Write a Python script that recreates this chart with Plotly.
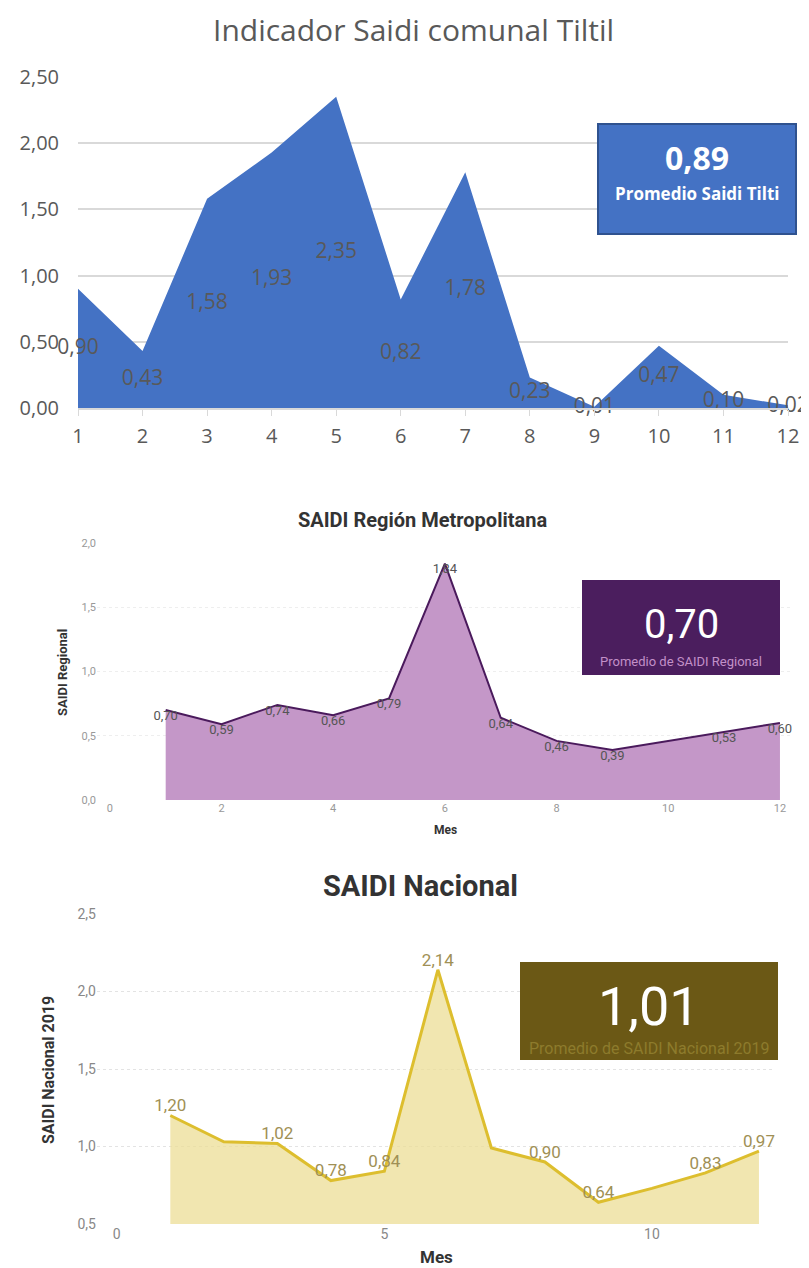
import plotly.graph_objects as go

W, H = 809, 1268
PAGE_OFFSET = 8  # the browser body margin pushes the figure 8px right/down

meses = list(range(1, 13))
saidi_tiltil = [0.90, 0.43, 1.58, 1.93, 2.35, 0.82, 1.78, 0.23, 0.01, 0.47, 0.10, 0.02]
saidi_regional = [0.70, 0.59, 0.74, 0.66, 0.79, 1.84, 0.64, 0.46, 0.39, 0.46, 0.53, 0.60]
regional_con_etiqueta = [True] * 9 + [False, True, True]
saidi_nacional = [1.20, 1.03, 1.02, 0.78, 0.84, 2.14, 0.99, 0.90, 0.64, 0.73, 0.83, 0.97]
nacional_con_etiqueta = [True, False, True, True, True, True, False, True, True, False, True, True]

prom_tiltil = "0,89"
prom_regional = "0,70"
prom_nacional = "1,01"


def _px(x):
    return (x - PAGE_OFFSET) / W


def _py(y):
    return 1 - (y - PAGE_OFFSET) / H


def _fmt(v, nd=2):
    return f"{v:.{nd}f}".replace(".", ",")


fig = go.Figure()

# --- Tiltil (Excel style) ---
fig.add_trace(go.Scatter(
    x=meses, y=saidi_tiltil, mode="lines", fill="tozeroy",
    line=dict(color="#4472C4", width=0), fillcolor="#4472C4",
    xaxis="x", yaxis="y", showlegend=False, hoverinfo="skip",
))
# Excel puts area labels halfway up the area
fig.add_trace(go.Scatter(
    x=meses, y=[v / 2 for v in saidi_tiltil], mode="text",
    text=[_fmt(v) for v in saidi_tiltil],
    textfont=dict(family="Open Sans", size=21, color="#595959"),
    xaxis="x", yaxis="y", showlegend=False, hoverinfo="skip", cliponaxis=False,
))

# --- Region Metropolitana ---
fig.add_trace(go.Scatter(
    x=meses, y=saidi_regional, mode="lines+text", fill="tozeroy",
    line=dict(color="#4A1A5C", width=2), fillcolor="#C497C8",
    text=[_fmt(v) if s else "" for v, s in zip(saidi_regional, regional_con_etiqueta)],
    textposition="bottom center",
    textfont=dict(family="Roboto", size=13, color="#555555"),
    xaxis="x2", yaxis="y2", showlegend=False, hoverinfo="skip", cliponaxis=False,
))

# --- Nacional ---
fig.add_trace(go.Scatter(
    x=meses, y=saidi_nacional, mode="lines+text", fill="tozeroy",
    line=dict(color="#DDBE2E", width=3), fillcolor="rgba(236,222,150,0.75)",
    text=[_fmt(v) if s else "" for v, s in zip(saidi_nacional, nacional_con_etiqueta)],
    textposition="top center",
    textfont=dict(family="Roboto", size=17, color="#A09055"),
    xaxis="x3", yaxis="y3", showlegend=False, hoverinfo="skip", cliponaxis=False,
))

grid_light = "#D9D9D9"

fig.update_layout(
    width=W, height=H,
    margin=dict(l=0, r=0, t=0, b=0, autoexpand=False),
    paper_bgcolor="white", plot_bgcolor="rgba(0,0,0,0)",
    separators=",.",
    xaxis=dict(
        domain=[_px(78), _px(788)], range=[1, 12], anchor="y", automargin=False,
        tickvals=meses, ticks="outside", ticklen=6, tickcolor=grid_light,
        showline=True, linecolor=grid_light, linewidth=1.5, showgrid=False, zeroline=False,
        tickfont=dict(family="Open Sans", size=20, color="#595959"),
        ticklabelstandoff=3,
    ),
    yaxis=dict(
        domain=[_py(408), _py(77)], range=[0, 2.5], anchor="x", automargin=False,
        tickvals=[0, 0.5, 1, 1.5, 2, 2.5], tickformat=".2f",
        gridcolor=grid_light, gridwidth=1.5, zeroline=False, showline=False,
        tickfont=dict(family="Open Sans", size=20, color="#595959"),
        ticklabelstandoff=18,
    ),
    xaxis2=dict(
        domain=[_px(97), _px(790)], range=[-0.23, 12.18], anchor="y2", automargin=False,
        tickvals=[0, 2, 4, 6, 8, 10, 12], showgrid=False, zeroline=False,
        tickfont=dict(family="Roboto", size=11, color="#999999"),
    ),
    yaxis2=dict(
        domain=[_py(800), _py(543)], range=[0, 2.0], anchor="x2", automargin=False,
        tickvals=[0, 0.5, 1, 1.5, 2], tickformat=".1f",
        gridcolor="#EEEEEE", griddash="dot", zeroline=False,
        tickfont=dict(family="Roboto", size=11, color="#999999"),
    ),
    xaxis3=dict(
        domain=[_px(97), _px(775)], range=[-0.37, 12.3], anchor="y3", automargin=False,
        tickvals=[0, 5, 10], showgrid=False, zeroline=False,
        tickfont=dict(family="Roboto", size=14, color="#888888"),
    ),
    yaxis3=dict(
        domain=[_py(1224), _py(914)], range=[0.5, 2.5], anchor="x3", automargin=False,
        tickvals=[0.5, 1, 1.5, 2, 2.5], tickformat=".1f",
        gridcolor="#E3E3E3", griddash="dot", zeroline=False,
        tickfont=dict(family="Roboto", size=14, color="#888888"),
    ),
)

shapes = [
    dict(type="rect", xref="paper", yref="paper", x0=_px(598), x1=_px(796), y0=_py(234), y1=_py(124),
         fillcolor="#4472C4", line=dict(color="#2F528F", width=2)),
    dict(type="rect", xref="paper", yref="paper", x0=_px(582), x1=_px(780), y0=_py(675), y1=_py(580),
         fillcolor="#4B1E5E", line=dict(width=0)),
    dict(type="rect", xref="paper", yref="paper", x0=_px(520), x1=_px(778), y0=_py(1060), y1=_py(962),
         fillcolor="#6B5815", line=dict(width=0)),
]
fig.update_layout(shapes=shapes)


def _note(x, y, text, size, color, family="Open Sans", angle=0, bold=False):
    if bold:
        text = f"<b>{text}</b>"
    fig.add_annotation(
        xref="paper", yref="paper", x=_px(x), y=_py(y), text=text, showarrow=False,
        xanchor="center", yanchor="middle", textangle=angle,
        font=dict(family=family, size=size, color=color),
    )


_note(413, 29, "Indicador Saidi comunal Tiltil", 30, "#595959")
_note(697, 157, prom_tiltil, 32, "white", bold=True)
_note(697, 194, "Promedio Saidi Tilti", 17, "white", bold=True)

_note(422, 520, "SAIDI Región Metropolitana", 20, "#333333", family="Roboto", bold=True)
_note(62, 673, "SAIDI Regional", 13, "#333333", family="Roboto", angle=-90, bold=True)
_note(445, 830, "Mes", 12, "#333333", family="Roboto", bold=True)
_note(681, 624, prom_regional, 40, "white", family="Roboto")
_note(681, 661, "Promedio de SAIDI Regional", 13, "#C290C8", family="Roboto")

_note(420, 886, "SAIDI Nacional", 29, "#333333", family="Roboto", bold=True)
_note(48, 1070, "SAIDI Nacional 2019", 16, "#333333", family="Roboto", angle=-90, bold=True)
_note(437, 1257, "Mes", 17, "#333333", family="Roboto", bold=True)
_note(649, 1006, prom_nacional, 54, "white", family="Roboto")
_note(649, 1048, "Promedio de SAIDI Nacional 2019", 16, "#8D7B2C", family="Roboto")

fig.write_html("out.html")
